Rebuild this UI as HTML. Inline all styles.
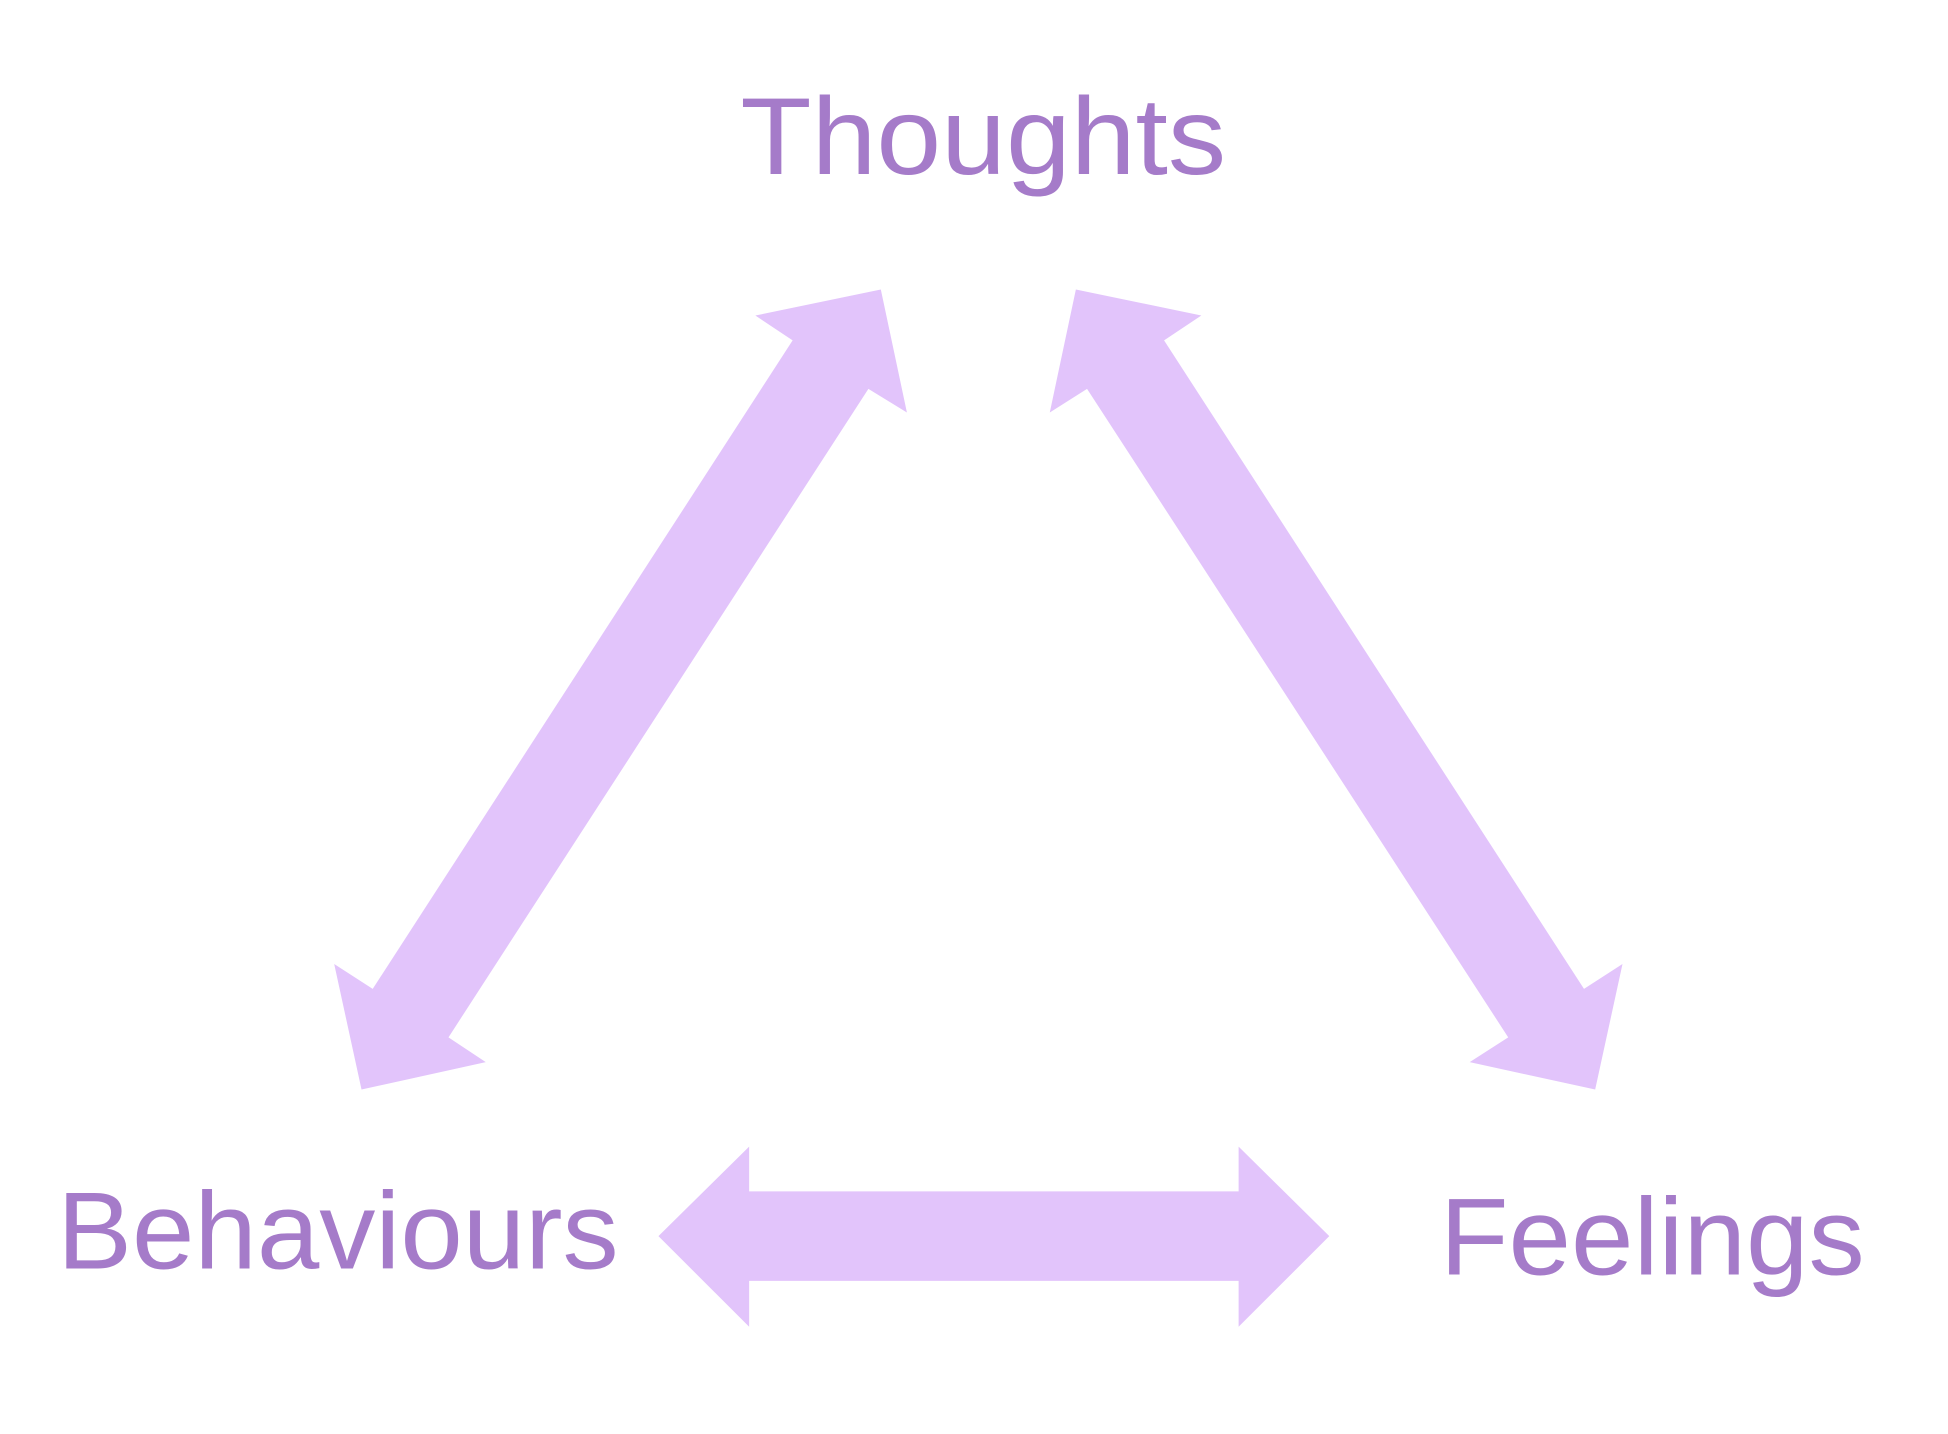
<!DOCTYPE html>
<html><head><style>html,body{margin:0;padding:0;background:#fff}svg{display:block}</style></head>
<body>
<svg width="1948" height="1434" viewBox="0 0 1568 1154.3" preserveAspectRatio="none" xmlns="http://www.w3.org/2000/svg">
<rect width="1568" height="1154.3" fill="#fff"/>
<g fill="#e2c4fb">
<polygon points="709,233 730,332 699,313 361,835 391,855 291,877 269,776 300,796 638,274 608,254"/>
<polygon points="866,233 967,254 937,274 1275,796 1306,776 1284,877 1183,855 1214,835 875,313 845,332"/>
<polygon points="530,995 603,923 603,959 997,959 997,923 1070,995 997,1068 997,1031 603,1031 603,1068"/>
</g>
<g fill="#a57bc9" font-family="'Liberation Sans', sans-serif" font-size="88" font-weight="300">
<text x="596" y="140" textLength="391" lengthAdjust="spacingAndGlyphs">Thoughts</text>
<text x="46" y="1021" textLength="452" lengthAdjust="spacingAndGlyphs">Behaviours</text>
<text x="1159" y="1026" textLength="342" lengthAdjust="spacingAndGlyphs">Feelings</text>
</g>
</svg>
</body></html>
